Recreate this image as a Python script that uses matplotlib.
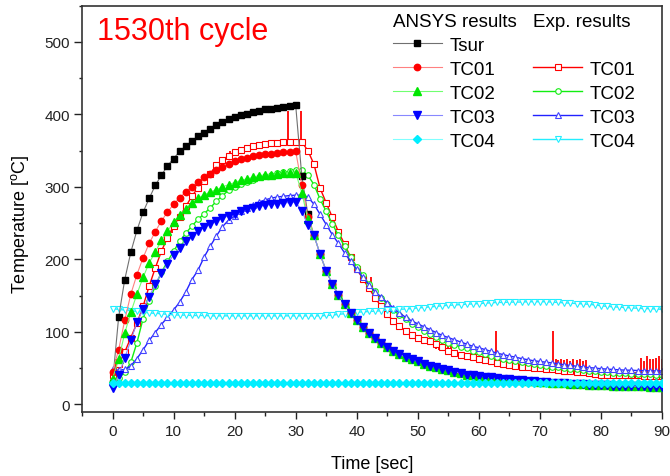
import matplotlib
matplotlib.use("Agg")
import matplotlib.pyplot as plt
from matplotlib.lines import Line2D
from matplotlib.ticker import MultipleLocator

plt.rcParams['font.family'] = ['Liberation Sans', 'DejaVu Sans']

# ---- data (time in sec, temperature in degC) ----
sim_t = list(range(91))
exp_t = list(range(91))

# heating part of the ANSYS curves, t = 0..32
tsur_rise = [30, 120, 172, 210, 240, 265, 284, 302, 316, 329, 339, 349, 356, 363, 370, 375,
             380, 385, 389, 393, 396, 399, 401, 403, 405, 407, 408, 409, 410.5, 411.5, 412.5,
             315, 262]
tc01_rise = [45, 75, 116, 152, 179, 202, 222, 238, 253, 265, 276, 285, 293, 300, 307, 313,
             318, 323, 328, 332, 335, 338, 340, 342, 343.5, 345, 346, 347, 347.5, 348, 349,
             303, 258]
tc02_rise = [35, 62, 98, 127, 152, 175, 195, 210, 226, 239, 251, 261, 270, 278, 284, 289,
             293, 296, 300, 303, 306, 309, 311, 313, 315, 316, 317, 318, 318.5, 319, 319.5,
             292, 255]
tc03_rise = [22, 40, 64, 88, 113, 131, 148, 166, 181, 194, 206, 216, 225, 232, 239, 245,
             249, 253, 257, 260, 263, 266, 269, 271, 273, 274.5, 276, 277, 277.5, 278.5, 279,
             267, 247]
# cooling part shared by the ANSYS curves, t = 33..90
sim_cool = [233, 207, 184, 166, 151, 138, 126, 116, 107, 99, 92, 85, 79, 74, 69, 65, 62,
            59, 56, 53, 51, 49, 47, 45, 43, 41, 40, 39, 38, 37, 36, 35, 34.5, 34, 33, 32.5,
            32, 31, 30.5, 30, 29.5, 29, 28.5, 28, 27.5, 27, 26.5, 26, 26, 25.5, 25.5, 25,
            25, 24.5, 24.5, 24, 24, 24]
tsur_sim = tsur_rise + sim_cool
tc01_sim = tc01_rise + sim_cool
tc02_sim = tc02_rise + sim_cool
tc03_sim = tc03_rise + sim_cool
tc04_sim = [29.5] * 91

exp_tc01 = [40, 55, 72, 92, 112, 135, 163, 188, 211, 230, 246, 259, 273, 287, 299, 308,
            318, 330, 337, 343, 348, 351, 354, 356, 358, 359.5, 360.5, 361, 362, 362, 362,
            362, 350, 331, 298, 278, 258, 238, 221, 203, 187, 173, 160, 147, 135, 124, 115,
            108, 101, 96, 92, 89, 87, 83, 79, 74, 71, 68.5, 67, 65, 63, 61, 59, 57, 55.5,
            54, 53, 52, 51, 50.5, 49.5, 48.5, 48, 47, 46, 45.5, 45, 44, 43, 42, 41, 41,
            40.5, 40.5, 40, 40, 40, 39.5, 39.5, 39, 39]
exp_tc02 = [34, 36, 44, 58, 85, 118, 142, 163, 182, 197, 211, 225, 236, 246, 255, 263, 271,
            280, 288, 295, 300, 304, 307, 310, 313, 315, 317, 318.5, 320, 321.5, 323.5, 323,
            316, 303, 283, 266, 249, 233, 218, 203, 190, 178, 166, 156, 147, 138, 130, 123,
            117, 111, 106, 101, 97, 93, 89, 85, 82, 79, 77, 74, 72, 70, 67, 65, 63, 61.5,
            60, 58, 56.5, 55, 54, 53, 52, 51, 49.5, 48.5, 48, 47, 46, 45.5, 44.5, 44, 43.5,
            43, 42.5, 42, 42, 41.5, 41.5, 41, 41]
exp_tc03 = [48, 47, 48, 53, 63, 75, 88, 99, 110, 120, 130, 141, 155, 172, 185, 203, 218,
            232, 245, 254, 260, 266, 271, 275, 279, 282, 284.5, 286, 287, 288, 288.5, 288.5,
            286, 276, 262, 248, 234, 222, 209, 197, 186, 175, 165, 155, 148, 140, 133, 126,
            120, 115, 111, 107, 103, 99, 95, 92, 89, 86, 83, 80, 78, 75.5, 73, 70.5, 68.5,
            66.5, 65, 63, 61.5, 60, 59, 58, 57, 56, 54.5, 53.5, 52.5, 51.5, 50.5, 50, 49,
            48.5, 48, 47.5, 47, 47, 46.5, 46.5, 46, 46, 46]
exp_tc04 = [132, 131, 130, 129, 128, 127, 126, 125.5, 125, 124, 123.5, 123, 123, 122.5,
            122.5, 122.5, 122, 122, 122, 122, 122, 122, 122, 122, 122, 122, 122, 122, 122,
            122, 122, 122, 122, 122, 122, 122.5, 123, 124, 125, 126, 127, 127.5, 128, 128.5,
            129, 130, 130.5, 131, 131.5, 132, 133, 133.5, 134.5, 135, 136, 136.5, 137, 137.5,
            138, 138.5, 139, 139.5, 140, 140.5, 140.5, 141, 141, 141, 141.5, 141.5, 141.5,
            141.5, 141, 140.5, 140, 139.5, 139, 138.5, 138, 137, 136, 135, 134.5, 134, 133.5,
            133, 132.5, 132, 132, 131.5, 131]

# noise spikes in the measured TC01 signal
spike_t = [0.6, 1.0, 1.4, 9.7, 19.3, 28.8, 30.9, 42.3, 52.0, 53.0, 53.5, 54.0, 54.5, 55.0,
           55.5, 62.8, 72.2, 72.6, 73.0, 73.5, 74.0, 74.5, 75.0, 75.5, 76.0, 76.5, 77.0,
           77.5, 86.5, 87.0, 87.5, 88.0, 88.5, 89.0, 89.5, 90.0]
spike_lo = [45, 48, 52, 237, 342, 362, 362, 160, 87, 76, 75, 74, 74, 73, 72, 57, 48, 47,
            47, 47, 46, 46, 46, 45, 45, 45, 44, 44, 40, 40, 39, 39, 39, 39, 39, 39]
spike_hi = [62, 62, 62, 250, 349, 405, 405, 176, 98, 84, 83, 84, 82, 83, 80, 101, 101, 62,
            61, 62, 61, 62, 60, 62, 61, 62, 60, 61, 64, 60, 66, 62, 63, 64, 66, 62]

fig = plt.figure(figsize=(6.7, 4.77), dpi=100)
ax = fig.add_axes([82 / 670, 1 - 412.5 / 477, 580 / 670, 405.8 / 477])

# measured curves
ax.vlines(spike_t, spike_lo, spike_hi, color='red', lw=1.3, zorder=2)
e1, = ax.plot(exp_t, exp_tc01, color='red', lw=1.0, marker='s', ms=4.4, mfc='white',
              mec='red', mew=0.8, label='TC01', zorder=2)
e2, = ax.plot(exp_t, exp_tc02, color='#11ee11', lw=1.0, marker='o', ms=4.0, mfc='white',
              mec='#11ee11', mew=0.8, label='TC02', zorder=2)
e3, = ax.plot(exp_t, exp_tc03, color='#2222ff', lw=1.0, marker='^', ms=4.8, mfc='white',
              mec='#4444ff', mew=0.8, label='TC03', zorder=2)
e4, = ax.plot(exp_t, exp_tc04, color='#22eeff', lw=1.0, marker='v', ms=4.8, mfc='white',
              mec='#22eeff', mew=0.8, label='TC04', zorder=2)

# ANSYS curves
s0, = ax.plot(sim_t, tsur_sim, color='#707070', lw=0.8, marker='s', ms=4.3, mfc='black',
              mec='black', label='Tsur', zorder=3)
s1, = ax.plot(sim_t, tc01_sim, color='#ff8080', lw=0.8, marker='o', ms=4.6, mfc='red',
              mec='red', label='TC01', zorder=3)
s2, = ax.plot(sim_t, tc02_sim, color='#70ff70', lw=0.8, marker='^', ms=5.2, mfc='#00e600',
              mec='#00e600', label='TC02', zorder=3)
s3, = ax.plot(sim_t, tc03_sim, color='#8888ff', lw=0.8, marker='v', ms=5.2, mfc='#0000ff',
              mec='#0000ff', label='TC03', zorder=3)
s4, = ax.plot(sim_t, tc04_sim, color='#80ffff', lw=0.8, marker='D', ms=3.6, mfc='#00eeff',
              mec='#00eeff', label='TC04', zorder=3)

ax.set_xlim(-5, 90)
ax.set_ylim(-10, 550)
ax.xaxis.set_major_locator(MultipleLocator(10))
ax.xaxis.set_minor_locator(MultipleLocator(5))
ax.yaxis.set_major_locator(MultipleLocator(100))
ax.yaxis.set_minor_locator(MultipleLocator(50))
ax.set_xticks(range(0, 91, 10))
ax.tick_params(axis='both', which='both', direction='out', colors='#222222', width=1.0,
               labelsize=11)
ax.tick_params(axis='x', which='major', length=5, pad=4)
ax.tick_params(axis='x', which='minor', length=3)
ax.tick_params(axis='y', which='major', length=5.5, pad=3)
ax.tick_params(axis='y', which='minor', length=2.5)
for sp in ax.spines.values():
    sp.set_color('#333333')
    sp.set_linewidth(1.2)

ax.set_xlabel('Time [sec]', fontsize=13, labelpad=12)
ax.set_ylabel('Temperature [$^\\mathregular{o}$C]', fontsize=13)
ax.yaxis.set_label_coords(-0.088, 0.465)

ax.text(0.026, 0.918, '1530th cycle', color='red', fontsize=22, transform=ax.transAxes,
        va='baseline', ha='left')

leg_kw = dict(loc='upper left', frameon=False, fontsize=13.5, title_fontsize=13.5,
              alignment='left', handlelength=2.6, handletextpad=0.4, labelspacing=0.37,
              borderpad=0, borderaxespad=0, numpoints=1)
leg1 = ax.legend(handles=[s0, s1, s2, s3, s4], title='ANSYS results',
                 bbox_to_anchor=(0.536, 0.983), **leg_kw)
ax.add_artist(leg1)
blank = Line2D([], [], linestyle='none', marker=None)
ax.legend(handles=[blank, e1, e2, e3, e4], labels=[' ', 'TC01', 'TC02', 'TC03', 'TC04'],
          title='Exp. results', bbox_to_anchor=(0.778, 0.983), **leg_kw)

fig.savefig('out.png', dpi=100)
